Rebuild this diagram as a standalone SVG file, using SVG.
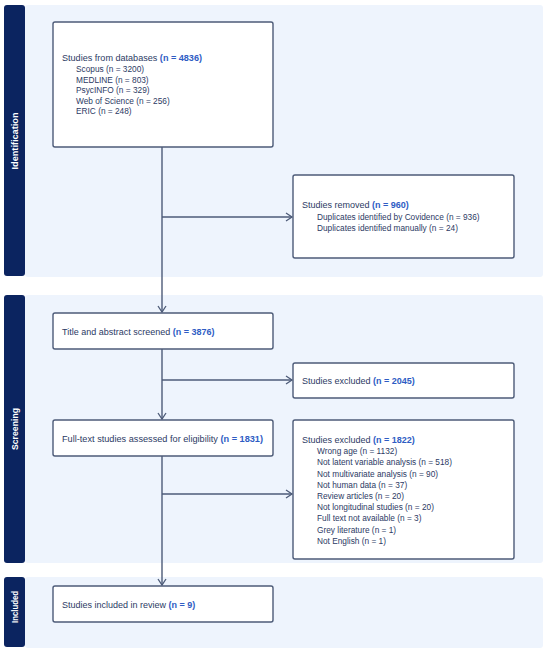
<svg xmlns="http://www.w3.org/2000/svg" width="550" height="654" viewBox="0 0 550 654">
<defs>
<style>
.panel{fill:#eef4fd}
.side{fill:#0b2460}
.box{fill:#ffffff;stroke:#4d5b78;stroke-width:1.4}
.ln{fill:none;stroke:#4d5b78;stroke-width:1.4}
.t{font-family:"Liberation Sans",Arial,sans-serif;font-size:8.3px;fill:#2c3a64}
.h{font-size:9px}
.n{fill:#2e5cc4;font-weight:bold}
.lab{font-family:"Liberation Sans",Arial,sans-serif;font-size:9px;font-weight:bold;fill:#ffffff}
</style>
<marker id="ah" markerWidth="10" markerHeight="10" refX="8" refY="5" orient="auto" markerUnits="userSpaceOnUse">
<path d="M2,1 L8,5 L2,9" fill="none" stroke="#4d5b78" stroke-width="1.3"/>
</marker>
</defs>
<rect width="550" height="654" fill="#ffffff"/>
<g id="band-identification">
<rect class="panel" x="25" y="5" width="518" height="272" rx="3"/>
<rect class="side" x="4" y="5" width="21" height="271" rx="3"/>
<text class="lab" transform="translate(18.3,141) rotate(-90)" text-anchor="middle" textLength="57" lengthAdjust="spacingAndGlyphs">Identification</text>
</g>
<g id="band-screening">
<rect class="panel" x="25" y="295" width="518" height="268" rx="3"/>
<rect class="side" x="4" y="295" width="21" height="268" rx="3"/>
<text class="lab" transform="translate(18.3,429) rotate(-90)" text-anchor="middle" textLength="42" lengthAdjust="spacingAndGlyphs">Screening</text>
</g>
<g id="band-included">
<rect class="panel" x="25" y="577" width="518" height="71" rx="3"/>
<rect class="side" x="4" y="577" width="21" height="70" rx="3"/>
<text class="lab" transform="translate(18.3,607) rotate(-90)" text-anchor="middle" textLength="32" lengthAdjust="spacingAndGlyphs">Included</text>
</g>
<g id="connectors">
<line class="ln" x1="162" y1="147" x2="162" y2="312" marker-end="url(#ah)"/>
<line class="ln" x1="162" y1="217" x2="292" y2="217" marker-end="url(#ah)"/>
<line class="ln" x1="162" y1="349" x2="162" y2="419" marker-end="url(#ah)"/>
<line class="ln" x1="162" y1="380" x2="292" y2="380" marker-end="url(#ah)"/>
<line class="ln" x1="162" y1="456" x2="162" y2="585" marker-end="url(#ah)"/>
<line class="ln" x1="162" y1="494" x2="292" y2="494" marker-end="url(#ah)"/>
</g>
<g id="node-databases">
<rect class="box" x="53" y="22" width="220" height="125" rx="2"/>
<text class="t h" x="62" y="61" textLength="140" lengthAdjust="spacingAndGlyphs">Studies from databases <tspan class="n">(n = 4836)</tspan></text>
<text class="t" x="76" y="72">Scopus (n = 3200)</text>
<text class="t" x="76" y="82.5">MEDLINE (n = 803)</text>
<text class="t" x="76" y="93">PsycINFO (n = 329)</text>
<text class="t" x="76" y="103.5">Web of Science (n = 256)</text>
<text class="t" x="76" y="114">ERIC (n = 248)</text>
</g>
<g id="node-removed">
<rect class="box" x="293" y="175" width="221" height="83" rx="2"/>
<text class="t h" x="302" y="208">Studies removed <tspan class="n">(n = 960)</tspan></text>
<text class="t" x="317" y="220">Duplicates identified by Covidence (n = 936)</text>
<text class="t" x="317" y="231">Duplicates identified manually (n = 24)</text>
</g>
<g id="node-title">
<rect class="box" x="53" y="313" width="220" height="36" rx="2"/>
<text class="t h" x="62" y="334.5">Title and abstract screened <tspan class="n">(n = 3876)</tspan></text>
</g>
<g id="node-excluded1">
<rect class="box" x="293" y="363" width="221" height="35" rx="2"/>
<text class="t h" x="302" y="384">Studies excluded <tspan class="n">(n = 2045)</tspan></text>
</g>
<g id="node-fulltext">
<rect class="box" x="53" y="420" width="220" height="36" rx="2"/>
<text class="t h" x="62" y="441.5" textLength="201" lengthAdjust="spacingAndGlyphs">Full-text studies assessed for eligibility <tspan class="n">(n = 1831)</tspan></text>
</g>
<g id="node-excluded2">
<rect class="box" x="293" y="420" width="221" height="139" rx="2"/>
<text class="t h" x="302" y="443">Studies excluded <tspan class="n">(n = 1822)</tspan></text>
<text class="t" x="317" y="454">Wrong age (n = 1132)</text>
<text class="t" x="317" y="465">Not latent variable analysis (n = 518)</text>
<text class="t" x="317" y="476.5">Not multivariate analysis (n = 90)</text>
<text class="t" x="317" y="487.5">Not human data (n = 37)</text>
<text class="t" x="317" y="499">Review articles (n = 20)</text>
<text class="t" x="317" y="510">Not longitudinal studies (n = 20)</text>
<text class="t" x="317" y="521">Full text not available (n = 3)</text>
<text class="t" x="317" y="532.5">Grey literature (n = 1)</text>
<text class="t" x="317" y="543.5">Not English (n = 1)</text>
</g>
<g id="node-included">
<rect class="box" x="53" y="586" width="220" height="36" rx="2"/>
<text class="t h" x="62" y="607.5">Studies included in review <tspan class="n">(n = 9)</tspan></text>
</g>
</svg>
